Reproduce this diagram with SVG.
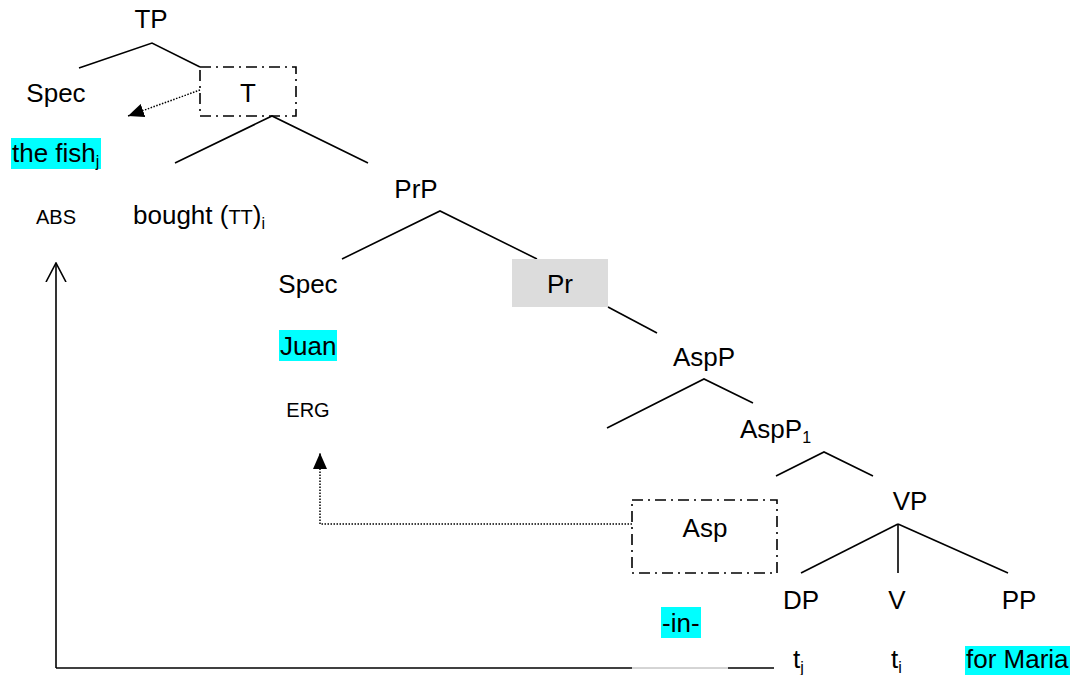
<svg xmlns="http://www.w3.org/2000/svg" width="1074" height="675" viewBox="0 0 1074 675">
<style>
text{font-family:"Liberation Sans",Arial,sans-serif;font-size:26px;fill:#000}
.sm{font-size:20px}
.sub{font-size:16px}
.mid{text-anchor:middle}
.br{stroke:#000;stroke-width:1.6;fill:none}
.dd{stroke:#000;stroke-width:1.6;fill:none;stroke-dasharray:11 5 2 5}
.dot{stroke:#000;stroke-width:1.5;fill:none;stroke-dasharray:1.5 1.5}
.hl{fill:#00ffff}
</style>
<defs>
<marker id="tri" markerWidth="16" markerHeight="14" refX="16" refY="7" orient="auto" markerUnits="userSpaceOnUse" viewBox="0 0 16 14">
<path d="M0,0 L16,7 L0,14 z" fill="#000"/>
</marker>
<marker id="vee" markerWidth="20" markerHeight="22" refX="19" refY="11" orient="auto" markerUnits="userSpaceOnUse" viewBox="0 0 20 22">
<path d="M0,1 L19,11 L0,21" fill="none" stroke="#000" stroke-width="1.6"/>
</marker>
</defs>
<g id="connectors">
<polyline class="br" points="79,68 152,43 200,67"/>
<polyline class="br" points="175,163 272,116 368,163"/>
<polyline class="br" points="342,259 440,211 537,259"/>
<line class="br" x1="608" y1="307" x2="657" y2="333"/>
<polyline class="br" points="607,428 704,379 753,403"/>
<polyline class="br" points="776,476 824,452 873,476"/>
<line class="br" x1="898" y1="524" x2="801" y2="573"/>
<line class="br" x1="898" y1="524" x2="898" y2="573"/>
<line class="br" x1="898" y1="524" x2="1008" y2="573"/>
<line class="dot" x1="200" y1="90" x2="128" y2="116" marker-end="url(#tri)"/>
<polyline class="dot" points="632,524 320,524 320,453" marker-end="url(#tri)"/>
<line class="br" x1="56" y1="668" x2="632" y2="668"/>
<line x1="632" y1="668" x2="728" y2="668" stroke="#aaa" stroke-width="1"/>
<line class="br" x1="728" y1="668" x2="774" y2="668"/>
<line class="br" x1="56" y1="668" x2="56" y2="263" marker-end="url(#vee)"/>
</g>
<g id="TP"><text class="mid" x="151" y="28">TP</text></g>
<g id="SpecTP"><text class="mid" x="56" y="102">Spec</text></g>
<g id="T"><rect class="dd" x="200" y="67" width="96" height="49"/><text class="mid" x="248" y="102">T</text></g>
<g id="thefish"><rect class="hl" x="11" y="138" width="90" height="31"/><text x="12" y="162">the fish<tspan class="sub" dy="5">j</tspan></text></g>
<g id="ABS"><text class="sm mid" x="56" y="224">ABS</text></g>
<g id="bought"><text x="133" y="224">bought (<tspan class="sm">TT</tspan>)<tspan class="sub" dy="5">i</tspan></text></g>
<g id="PrP"><text class="mid" x="416" y="198">PrP</text></g>
<g id="SpecPrP"><text class="mid" x="308" y="293">Spec</text></g>
<g id="Pr"><rect x="512" y="259" width="96" height="48" fill="#dcdcdc"/><text class="mid" x="560" y="293">Pr</text></g>
<g id="Juan"><rect class="hl" x="279" y="330" width="58" height="31"/><text x="280" y="355">Juan</text></g>
<g id="ERG"><text class="sm mid" x="308" y="417">ERG</text></g>
<g id="AspP"><text class="mid" x="704" y="366">AspP</text></g>
<g id="AspP1"><text x="740" y="438">AspP<tspan class="sub" dy="5">1</tspan></text></g>
<g id="VP"><text class="mid" x="910" y="510">VP</text></g>
<g id="Asp"><rect class="dd" x="632" y="500" width="145" height="73"/><text class="mid" x="705" y="537">Asp</text></g>
<g id="DP"><text class="mid" x="801" y="609">DP</text></g>
<g id="V"><text class="mid" x="897" y="609">V</text></g>
<g id="PP"><text class="mid" x="1019" y="609">PP</text></g>
<g id="in"><rect class="hl" x="661" y="607" width="40" height="31"/><text x="662" y="632">-in-</text></g>
<g id="tj"><text x="793" y="668">t<tspan class="sub" dy="5">j</tspan></text></g>
<g id="ti"><text x="891" y="668">t<tspan class="sub" dy="5">i</tspan></text></g>
<g id="forMaria"><rect class="hl" x="965" y="646" width="105" height="29"/><text x="966" y="668">for Maria</text></g>
</svg>
